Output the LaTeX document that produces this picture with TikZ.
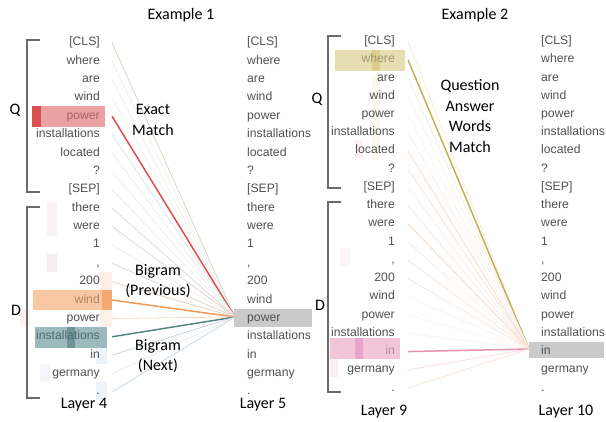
\documentclass[tikz,border=0pt]{standalone}
\usepackage{fontspec}
\newfontfamily\tokfont{Liberation Sans}
\newfontfamily\lblfont{Carlito}
\definecolor{tokgray}{HTML}{505050}
\definecolor{brk}{HTML}{6A6A6A}
\definecolor{hpow}{HTML}{A86464}\definecolor{hwind}{HTML}{B08468}\definecolor{hinst}{HTML}{4E6C6E}
\definecolor{hwhere}{HTML}{A09A78}\definecolor{hin}{HTML}{B48CA2}
% example 1 line colours
\definecolor{a0}{HTML}{D4D0B4}\definecolor{a1}{HTML}{E2EAEA}\definecolor{a2}{HTML}{E6E6DE}
\definecolor{a3}{HTML}{E2EAE6}\definecolor{a4}{HTML}{DE4C4C}\definecolor{a5}{HTML}{C4DED6}
\definecolor{a6}{HTML}{DEE2DE}\definecolor{a7}{HTML}{E6EAE2}\definecolor{a8}{HTML}{E2E6E6}
\definecolor{a9}{HTML}{D8CCC8}\definecolor{a10}{HTML}{D4C8C4}\definecolor{a11}{HTML}{E6E2DE}
\definecolor{a12}{HTML}{D4C8BC}\definecolor{a13}{HTML}{DEC4B2}\definecolor{a14}{HTML}{F09A58}
\definecolor{a15}{HTML}{F6CCAA}\definecolor{a16}{HTML}{568484}\definecolor{a17}{HTML}{B4C8D6}
\definecolor{a18}{HTML}{DAE2EA}\definecolor{a19}{HTML}{B4CCDC}
% example 2 line colours
\definecolor{b0}{HTML}{EEEAC4}\definecolor{b1}{HTML}{C4AE58}\definecolor{b2}{HTML}{EAE2CC}
\definecolor{b3}{HTML}{F2EADC}\definecolor{b4}{HTML}{F2ECE6}\definecolor{b5}{HTML}{F6E4DA}
\definecolor{b6}{HTML}{EECAB0}\definecolor{b7}{HTML}{F2D4BE}\definecolor{b8}{HTML}{F2E4DC}
\definecolor{b9}{HTML}{F6D8CA}\definecolor{b10}{HTML}{F2C2A8}\definecolor{b11}{HTML}{F6E0D4}
\definecolor{b12}{HTML}{F6D8C4}\definecolor{b13}{HTML}{F6D8CC}\definecolor{b14}{HTML}{F2EAE4}
\definecolor{b15}{HTML}{F6EEEA}\definecolor{b16}{HTML}{F2EAE4}\definecolor{b17}{HTML}{E890B0}
\definecolor{b18}{HTML}{F2CCD6}\definecolor{b19}{HTML}{F6D4C2}
% fills
\definecolor{f1}{HTML}{F8F1F1}\definecolor{f2}{HTML}{F6EEEE}\definecolor{f3}{HTML}{FDEEE6}
\definecolor{f4}{HTML}{FDF0E8}\definecolor{f5}{HTML}{FDF4F4}\definecolor{f6}{HTML}{EEF3F9}
\definecolor{f7}{HTML}{F6F5FA}\definecolor{f8}{HTML}{FAF8EF}\definecolor{f9}{HTML}{FAF0F6}
\definecolor{f10}{HTML}{FAEEEE}\definecolor{f11}{HTML}{FCF6F6}
\definecolor{redL}{HTML}{EBA2A2}\definecolor{redD}{HTML}{D95050}
\definecolor{orL}{HTML}{F9C7A2}\definecolor{orD}{HTML}{F5A872}
\definecolor{teL}{HTML}{9CB9BD}\definecolor{teD}{HTML}{6E9498}
\definecolor{grB}{HTML}{CACACA}
\definecolor{khL}{HTML}{E6DEB0}\definecolor{khD}{HTML}{DACE8A}
\definecolor{piL}{HTML}{F2C6D8}\definecolor{piD}{HTML}{E8A4CA}
\begin{document}
\begin{tikzpicture}[x=1pt,y=-1pt,
  tokL/.style={anchor=east,inner sep=0pt,text height=8.6pt,text depth=2.5pt,font=\tokfont\fontsize{12.2}{14}\selectfont},
  tokR/.style={anchor=west,inner sep=0pt,text height=8.6pt,text depth=2.5pt,font=\tokfont\fontsize{12.2}{14}\selectfont,text=tokgray},
  lbl/.style={inner sep=0pt,align=center,font=\lblfont\fontsize{16}{20.4}\selectfont},
  bracket/.style={draw=brk,line width=2.6pt},
  conn/.style={line width=0.8pt},
  hot/.style={line width=1.5pt}]
\useasboundingbox (0,0) rectangle (606,421);

% faint heat-map cells
\fill[f1] (47,202) rectangle (57,236);
\fill[f2] (47,254) rectangle (57,272);
\fill[f3] (100,272) rectangle (112,290);
\fill[f4] (100,309) rectangle (112,327);
\fill[f5] (20,309) rectangle (30,327);
\fill[f6] (96,345) rectangle (107,364);
\fill[f6] (96,382) rectangle (107,400);
\fill[f7] (40,364) rectangle (50,382);
\fill[f8] (372,75) rectangle (380,160);
\fill[f9] (355,140) rectangle (363,158);
\fill[f10] (330,352) rectangle (338,377);
\fill[f11] (340,248) rectangle (350,266);

% highlight boxes, example 1
\fill[redL] (32,106) rectangle (105,127);
\fill[redD] (32,106) rectangle (41,127);
\fill[orL] (33,290) rectangle (112,310);
\fill[orD] (102,290) rectangle (112,310);
\fill[teL] (35,327) rectangle (107,348);
\fill[teD] (67,327) rectangle (75,348);
\fill[grB] (234,309) rectangle (312,327);
% highlight boxes, example 2
\fill[khL] (335,50) rectangle (405,71);
\fill[khD] (372,50) rectangle (380,71);
\fill[piL] (330,338) rectangle (400,359);
\fill[piD] (355,338) rectangle (363,359);
\fill[grB] (529,342) rectangle (604,358);

% convergence points
\coordinate (ca) at (235,317);
\coordinate (cb) at (529,349);

% example 1 tokens and connectors
\foreach \t/\tc/\w/\m [count=\i from 0] in
 {{[CLS]}/tokgray/conn/85, where/tokgray/conn/60, are/tokgray/conn/60, wind/tokgray/conn/60,
  power/hpow/hot/100, installations/tokgray/conn/70, located/tokgray/conn/60, ?/tokgray/conn/60,
  {[SEP]}/tokgray/conn/60, there/tokgray/conn/75, were/tokgray/conn/75, 1/tokgray/conn/60, {,}/tokgray/conn/75,
  200/tokgray/conn/75, wind/hwind/hot/100, power/tokgray/conn/75, installations/hinst/hot/100,
  in/tokgray/conn/75, germany/tokgray/conn/65, ./tokgray/conn/75}
{
  \pgfmathsetmacro\yy{42.7+18.38*\i}
  \node[tokL,text=\tc] (La\i) at (100,\yy) {\t};
  \node[tokR] (Ra\i) at (247,\yy) {\t};
  \coordinate (pa\i) at (112,\yy);
  \draw[\w,color=a\i!\m!white] (pa\i) -- (ca);
}

% example 2 tokens and connectors
\foreach \t/\tc/\w/\m [count=\i from 0] in
 {{[CLS]}/tokgray/conn/70, where/hwhere/hot/100, are/tokgray/conn/60, wind/tokgray/conn/55,
  power/tokgray/conn/55, installations/tokgray/conn/55, located/tokgray/conn/65, ?/tokgray/conn/60,
  {[SEP]}/tokgray/conn/55, there/tokgray/conn/60, were/tokgray/conn/65, 1/tokgray/conn/55, {,}/tokgray/conn/60,
  200/tokgray/conn/60, wind/tokgray/conn/55, power/tokgray/conn/55, installations/tokgray/conn/55,
  in/hin/hot/100, germany/tokgray/conn/70, ./tokgray/conn/65}
{
  \pgfmathsetmacro\yy{41.5+18.24*\i}
  \node[tokL,text=\tc] (Lb\i) at (395,\yy) {\t};
  \node[tokR] (Rb\i) at (541,\yy) {\t};
  \coordinate (pb\i) at (408,\yy);
  \draw[\w,color=b\i!\m!white] (pb\i) -- (cb);
}

% brackets
\draw[bracket] (40,40) -- (27,40) -- (27,192) -- (40,192);
\draw[bracket] (40,207) -- (27,207) -- (27,398) -- (40,398);
\draw[bracket] (341,36) -- (328,36) -- (328,188) -- (341,188);
\draw[bracket] (341,202) -- (328,202) -- (328,392) -- (341,392);

% labels
\node[lbl] (t1) at (181,15) {Example 1};
\node[lbl] (t2) at (475,15) {Example 2};
\node[lbl] (q1) at (15,110) {Q};
\node[lbl] (d1) at (16,310) {D};
\node[lbl] (q2) at (317,99) {Q};
\node[lbl] (d2) at (320,305) {D};
\node[lbl] (em) at (153,120) {Exact\\Match};
\node[lbl] (bp) at (158,281) {Bigram\\(Previous)};
\node[lbl] (bn) at (158,356) {Bigram\\(Next)};
\node[lbl] (qa) at (470,116) {Question\\Answer\\Words\\Match};
\node[lbl] (l4) at (84,405) {Layer 4};
\node[lbl] (l5) at (263,405) {Layer 5};
\node[lbl] (l9) at (384,412) {Layer 9};
\node[lbl] (l10) at (566,412) {Layer 10};
\end{tikzpicture}
\end{document}
